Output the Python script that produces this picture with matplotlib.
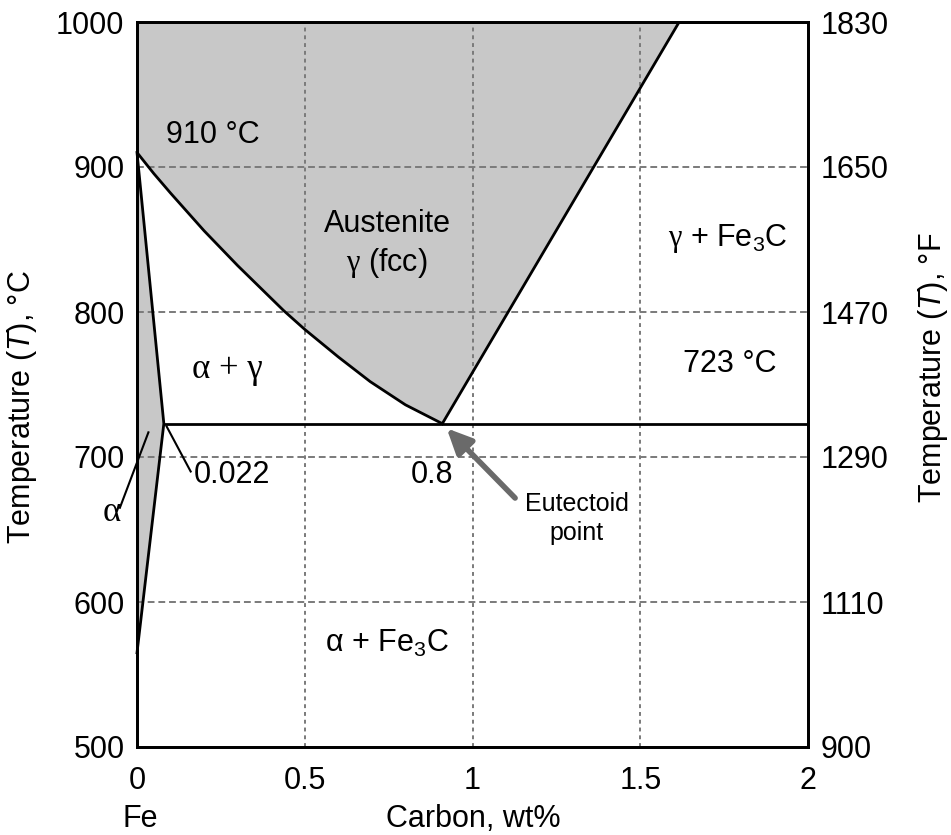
import matplotlib.pyplot as plt

plt.rcParams['font.family'] = ['Liberation Sans', 'DejaVu Sans']
plt.rcParams['mathtext.fontset'] = 'custom'
plt.rcParams['mathtext.rm'] = 'Liberation Serif'
plt.rcParams['mathtext.it'] = 'Liberation Sans:italic'
plt.rcParams['mathtext.default'] = 'regular'

# axis ticks
carbon_ticks = [0, 0.5, 1, 1.5, 2]
carbon_tick_labels = ['0', '0.5', '1', '1.5', '2']
temp_c_ticks = [500, 600, 700, 800, 900, 1000]
temp_f_labels = ['900', '1110', '1290', '1470', '1650', '1830']

# phase boundaries (schematic, low-carbon side stretched)
a3_carbon = [0, 0.05, 0.1, 0.2, 0.3, 0.437, 0.5, 0.6, 0.695, 0.8, 0.91]
a3_temp = [910, 895.5, 882, 856, 832, 801, 788, 769, 752, 736, 723]
acm_carbon = [0.91, 1.616]
acm_temp = [723, 1000]
alpha_carbon = [0, 0.08, 0]
alpha_temp = [910, 723, 565]
eutectoid_temp = 723
eutectoid_carbon = [0.08, 2]

FILL = '#c8c8c8'
GRID = '#7a7a7a'

fig = plt.figure(figsize=(9.51, 8.35), dpi=100)
ax = fig.add_axes([137 / 951, 1 - 747 / 835, 671 / 951, 725 / 835])
ax.set_xlim(0, 2)
ax.set_ylim(500, 1000)

# austenite field
aus_c = [0, 0] + a3_carbon + [acm_carbon[1]]
aus_t = [1000, 910] + a3_temp + [acm_temp[1]]
ax.fill(aus_c, aus_t, color=FILL, lw=0, zorder=1)
# ferrite field
ax.fill(alpha_carbon, alpha_temp, color=FILL, lw=0, zorder=1)

# grid
for c in carbon_ticks[1:-1]:
    ax.axvline(c, color=GRID, lw=1.4, ls=(0, (2, 2)), zorder=2)
for t in temp_c_ticks[1:-1]:
    ax.axhline(t, color=GRID, lw=1.4, ls=(0, (3.5, 2)), zorder=2)

ax.plot(a3_carbon, a3_temp, color='black', lw=2, zorder=3)
ax.plot(acm_carbon, acm_temp, color='black', lw=2, zorder=3)
ax.plot(alpha_carbon, alpha_temp, color='black', lw=2, zorder=3, clip_on=False)
ax.plot(eutectoid_carbon, [eutectoid_temp] * 2, color='black', lw=2, zorder=3)

fs = 22
ax.text(0.227, 922, '910 °C', fontsize=fs, ha='center', va='center')
ax.text(0.745, 861, 'Austenite', fontsize=fs, ha='center', va='center')
ax.text(0.745, 834, r'$\mathrm{γ}$ (fcc)', fontsize=fs, ha='center', va='center')
ax.text(1.76, 851, r'$\mathrm{γ}$ + Fe$_3$C', fontsize=fs, ha='center', va='center')
ax.text(0.268, 760, 'α + γ', fontsize=25, ha='center', va='center',
        family='Liberation Serif')
ax.text(1.767, 764, '723 °C', fontsize=fs, ha='center', va='center')
ax.text(0.17, 687.6, '0.022', fontsize=fs, ha='left', va='center')
ax.plot([0.0885, 0.160], [721, 690], color='black', lw=1.5, zorder=3)
ax.text(-0.075, 662, 'α', fontsize=25, ha='center', va='center',
        family='Liberation Serif')
ax.plot([-0.051, 0.034], [665, 717], color='black', lw=1.5, zorder=3, clip_on=False)
ax.text(0.878, 687.6, '0.8', fontsize=fs, ha='center', va='center')
ax.text(0.745, 571.7, r'α + Fe$_3$C', fontsize=fs, ha='center', va='center')

ax.annotate('', xy=(0.923, 719.8), xytext=(1.127, 671.7),
            arrowprops=dict(arrowstyle='-|>,head_length=1.5,head_width=0.7',
                            color='#6a6a6a', lw=4, shrinkA=0, shrinkB=0),
            zorder=4)
ax.text(1.311, 657.7, 'Eutectoid\npoint', fontsize=18, ha='center', va='center',
        linespacing=1.25)

ax.set_xticks(carbon_ticks)
ax.set_xticklabels(carbon_tick_labels)
ax.set_yticks(temp_c_ticks)
ax.tick_params(axis='both', length=0, labelsize=fs)
ax.tick_params(axis='x', pad=14)
ax.tick_params(axis='y', pad=9)
for s in ax.spines.values():
    s.set_linewidth(2)

ax2 = ax.twinx()
ax2.set_ylim(500, 1000)
ax2.set_yticks(temp_c_ticks)
ax2.set_yticklabels(temp_f_labels)
ax2.tick_params(axis='y', length=0, labelsize=fs, pad=9)
for s in ax2.spines.values():
    s.set_linewidth(2)

fig.text(22 / 951, 1 - 407 / 835, r'Temperature ($\mathit{T}$), °C', fontsize=22,
         rotation=90, ha='center', va='center')
fig.text(933 / 951, 1 - 368 / 835, r'Temperature ($\mathit{T}$), °F', fontsize=22,
         rotation=90, ha='center', va='center')
fig.text(473 / 951, 1 - 819 / 835, 'Carbon, wt%', fontsize=22, ha='center', va='center')
fig.text(140 / 951, 1 - 819 / 835, 'Fe', fontsize=22, ha='center', va='center')

fig.savefig('out.png', dpi=100)
